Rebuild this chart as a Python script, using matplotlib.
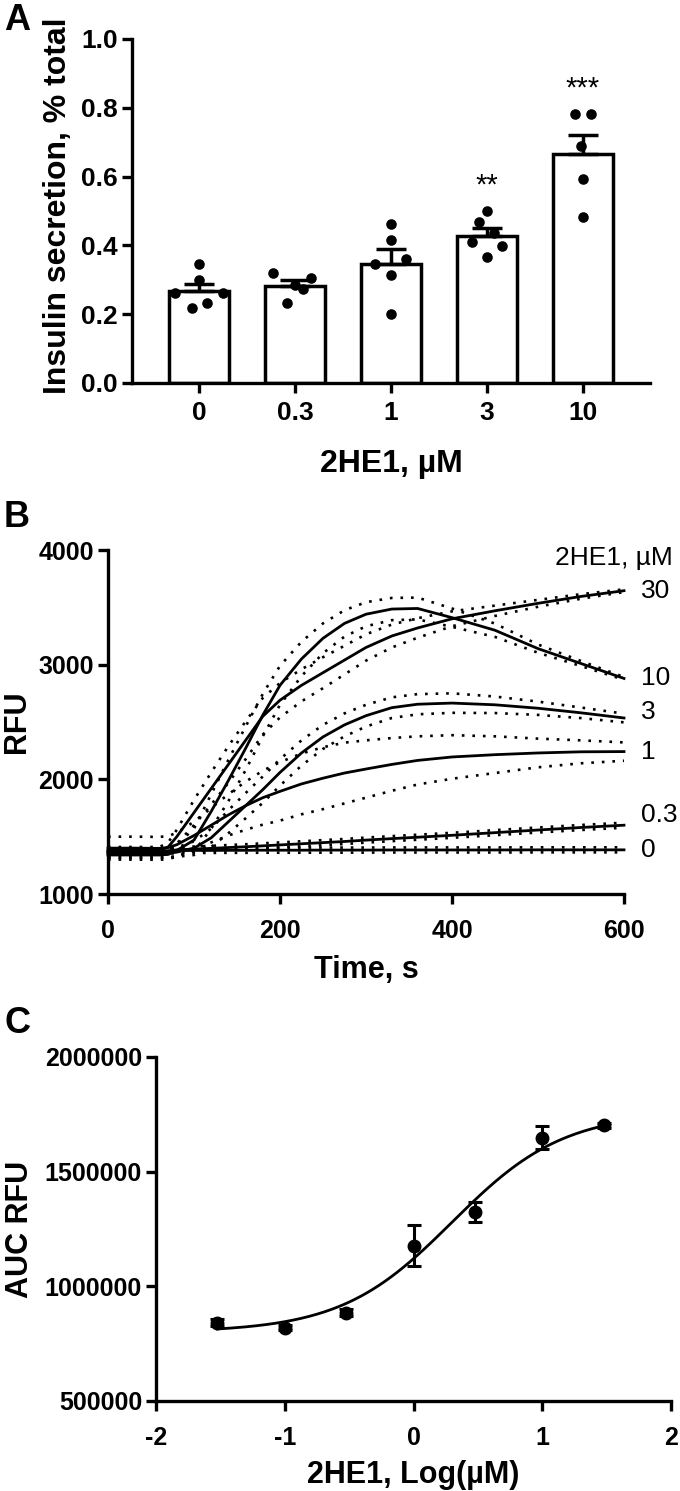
import numpy as np
import matplotlib
matplotlib.use("Agg")
import matplotlib.pyplot as plt
from matplotlib.ticker import FormatStrFormatter

plt.rcParams['font.family'] = ['Liberation Sans', 'DejaVu Sans']
plt.rcParams['font.weight'] = 'bold'
plt.rcParams['axes.labelweight'] = 'bold'
plt.rcParams['axes.unicode_minus'] = False

# ---------------- panel A: insulin secretion vs 2HE1 dose
doses_a = ['0', '0.3', '1', '3', '10']
means_a = [0.266, 0.283, 0.346, 0.428, 0.665]
sem_a = [0.022, 0.017, 0.043, 0.024, 0.055]
points_a = [
    [0.346, 0.298, 0.262, 0.262, 0.217, 0.233],
    [0.319, 0.306, 0.285, 0.272, 0.232],
    [0.462, 0.416, 0.360, 0.346, 0.314, 0.201],
    [0.500, 0.469, 0.437, 0.411, 0.397, 0.365],
    [0.781, 0.781, 0.690, 0.594, 0.484],
]
stars_a = ['', '', '', '**', '***']

# ---------------- panel B: RFU time courses (mean and SEM)
time_b = [0, 30, 60, 70, 80, 100, 120, 140, 160, 180, 200, 225, 250,
          275, 300, 330, 360, 400, 450, 500, 550, 600]
conc_b = ['0', '0.3', '1', '3', '10', '30']
rfu_0 = [1370, 1372, 1374, 1376, 1378, 1380, 1380, 1381, 1381, 1382, 1382,
         1382, 1383, 1383, 1383, 1384, 1384, 1384, 1384, 1385, 1385, 1385]
rfu_03 = [1365, 1366, 1368, 1375, 1385, 1392, 1398, 1405, 1412, 1420, 1428,
          1438, 1448, 1458, 1470, 1483, 1495, 1512, 1535, 1558, 1580, 1600]
rfu_1 = [1400, 1400, 1398, 1405, 1430, 1510, 1600, 1690, 1770, 1840, 1895,
         1960, 2010, 2055, 2090, 2130, 2165, 2195, 2215, 2230, 2240, 2242]
rfu_3 = [1350, 1350, 1352, 1355, 1365, 1400, 1490, 1630, 1770, 1910, 2060,
         2230, 2370, 2475, 2555, 2625, 2655, 2665, 2650, 2620, 2580, 2535]
rfu_10 = [1340, 1340, 1340, 1345, 1380, 1470, 1720, 1990, 2270, 2560, 2820,
          3050, 3230, 3360, 3440, 3485, 3490, 3410, 3300, 3140, 3010, 2880]
rfu_30 = [1380, 1380, 1380, 1410, 1500, 1710, 1920, 2130, 2340, 2550, 2690,
          2820, 2930, 3040, 3150, 3250, 3320, 3400, 3470, 3535, 3595, 3645]
sem_0 = [22] * 22
sem_03 = [22] * 22
sem_1 = [100, 100, 100, 100, 105, 120, 150, 180, 210, 235, 255,
         265, 270, 265, 250, 230, 210, 190, 160, 125, 100, 80]
sem_3 = [30, 30, 30, 30, 40, 60, 80, 100, 110, 115, 115,
         110, 105, 100, 95, 90, 88, 85, 72, 58, 46, 38]
sem_10 = [25, 25, 25, 30, 50, 100, 150, 180, 190, 185, 170,
          150, 130, 115, 105, 97, 95, 80, 58, 36, 22, 12]
sem_30 = [30, 30, 30, 40, 60, 110, 140, 160, 165, 160, 150,
          140, 135, 125, 115, 100, 85, 65, 45, 30, 20, 12]

# ---------------- panel C: AUC dose response
conc_c = [0.03, 0.1, 0.3, 1, 3, 10, 30]
auc_c = [841000, 820000, 884000, 1178000, 1324000, 1648000, 1702000]
auc_sem_c = [15000, 12000, 15000, 90000, 42000, 50000, 12000]
# 4PL fit: bottom, top, logEC50, hill
fit_bottom, fit_top, fit_logec50, fit_hill = 800000, 1760000, 0.3, 1.0


fig = plt.figure(figsize=(6.8, 14.91), dpi=100)
W, H = 680.0, 1491.0


def px_axes(left, top, right, bottom):
    return fig.add_axes([left / W, 1 - bottom / H, (right - left) / W, (bottom - top) / H])


def prism_style(ax, size, xpad):
    for s in ['top', 'right']:
        ax.spines[s].set_visible(False)
    for s in ['left', 'bottom']:
        ax.spines[s].set_linewidth(2.4)
    ax.tick_params(direction='out', length=7, width=2.4, labelsize=size, pad=3)
    ax.tick_params(axis='x', pad=xpad)


# ---- A
axA = px_axes(132, 39, 650, 383)
xa = np.arange(len(doses_a))
jitter_a = [
    [0, 0, -0.25, 0.25, -0.07, 0.08],
    [-0.23, 0.17, 0, 0.08, -0.085],
    [0, 0, 0.16, -0.17, 0, 0],
    [0, -0.08, 0.07, -0.16, 0.16, 0],
    [-0.08, 0.08, -0.02, 0, 0],
]
axA.bar(xa, means_a, width=0.62, color='white', edgecolor='black', linewidth=2.5, zorder=2)
axA.errorbar(xa, means_a, yerr=[np.zeros(len(sem_a)), sem_a], fmt='none', ecolor='black',
             elinewidth=2.5, capsize=11, capthick=2.5, zorder=3)
for i, vals in enumerate(points_a):
    axA.scatter(xa[i] + np.array(jitter_a[i]), vals, s=58, color='black', zorder=4, linewidths=0)
    if stars_a[i]:
        axA.text(xa[i], max(vals) + 0.075, stars_a[i], ha='center', va='center',
                 fontsize=21, fontweight='normal')
axA.set_xlim(-0.7, 4.7)
axA.set_ylim(0, 1.0)
axA.set_yticks(np.arange(0, 1.01, 0.2))
axA.yaxis.set_major_formatter(FormatStrFormatter('%.1f'))
axA.set_xticks(xa)
axA.set_xticklabels(doses_a)
prism_style(axA, 19, 6)
axA.set_ylabel('Insulin secretion, % total', fontsize=23, va='center')
axA.yaxis.set_label_coords(-0.143, 0.515)
axA.set_xlabel('2HE1, µM', fontsize=23, va='center')
axA.xaxis.set_label_coords(0.5, -0.235)

# ---- B
axB = px_axes(108, 550, 624, 894)
tb = np.array(time_b)
rfu_all = [rfu_0, rfu_03, rfu_1, rfu_3, rfu_10, rfu_30]
sem_all = [sem_0, sem_03, sem_1, sem_3, sem_10, sem_30]
label_shift = [0, 90, 0, 50, 0, 0]
dots = (0, (1, 3))
for name, m, s, dy in zip(conc_b, rfu_all, sem_all, label_shift):
    m = np.array(m, dtype=float)
    s = np.array(s, dtype=float)
    axB.plot(tb, m + s, color='black', ls=dots, lw=1.9, clip_on=False)
    axB.plot(tb, m - s, color='black', ls=dots, lw=1.9, clip_on=False)
    axB.plot(tb, m, color='black', lw=2.0, clip_on=False)
    axB.text(620, m[-1] + dy, name, ha='left', va='center', fontsize=19, fontweight='normal')
axB.text(657, 3930, '2HE1, µM', ha='right', va='center', fontsize=19, fontweight='normal')
axB.set_xlim(0, 600)
axB.set_ylim(1000, 4000)
axB.set_xticks([0, 200, 400, 600])
axB.set_yticks([1000, 2000, 3000, 4000])
prism_style(axB, 18, 11)
axB.set_ylabel('RFU', fontsize=22, va='center')
axB.yaxis.set_label_coords(-0.176, 0.5)
axB.set_xlabel('Time, s', fontsize=22, va='center')
axB.xaxis.set_label_coords(0.5, -0.22)

# ---- C
axC = px_axes(156, 1057, 671, 1401)
logc = np.log10(conc_c)
xfit = np.linspace(logc[0], logc[-1], 200)
yfit = fit_bottom + (fit_top - fit_bottom) / (1 + 10 ** ((fit_logec50 - xfit) * fit_hill))
axC.plot(xfit, yfit, color='black', lw=2.0, zorder=2)
axC.errorbar(logc, auc_c, yerr=auc_sem_c, fmt='o', color='black', ms=9, elinewidth=2.2,
             capsize=5, capthick=2.2, zorder=3)
axC.set_xlim(-2, 2)
axC.set_ylim(500000, 2000000)
axC.set_xticks([-2, -1, 0, 1, 2])
axC.set_yticks([500000, 1000000, 1500000, 2000000])
axC.yaxis.set_major_formatter(FormatStrFormatter('%d'))
prism_style(axC, 18, 11)
axC.set_ylabel('AUC RFU', fontsize=22, va='center')
axC.yaxis.set_label_coords(-0.264, 0.5)
axC.set_xlabel('2HE1, Log(µM)', fontsize=22, va='center')
axC.xaxis.set_label_coords(0.5, -0.215)

# panel letters
fig.text(4 / W, 1 - 3 / H, 'A', fontsize=26, va='top', ha='left')
fig.text(4 / W, 1 - 500 / H, 'B', fontsize=26, va='top', ha='left')
fig.text(4 / W, 1 - 1006 / H, 'C', fontsize=26, va='top', ha='left')

fig.savefig('out.png', dpi=100)
